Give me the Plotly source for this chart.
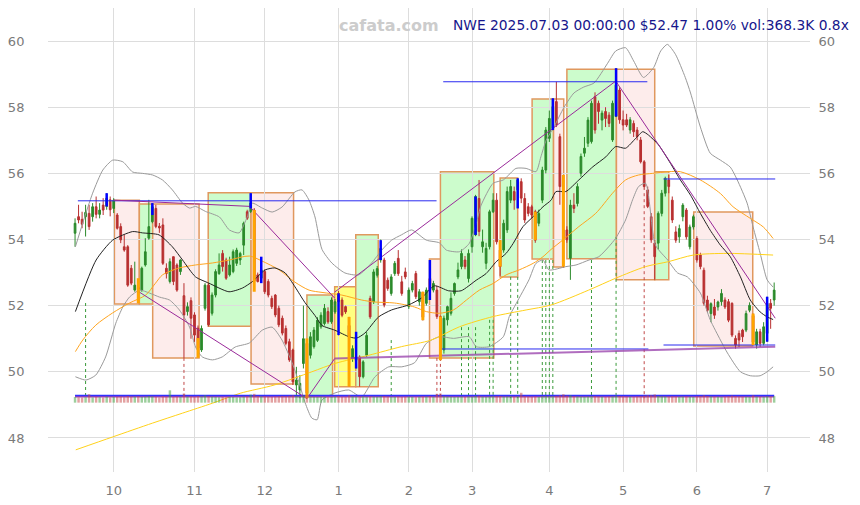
import plotly.graph_objects as go

# ---------------- data ----------------
bars = list(range(200))

opens = [54.19, 54.69, 54.61, 54.69, 54.79, 54.69, 54.99, 54.76, 55.04, 55.00,
         55.20, 54.94, 54.74, 54.39, 53.78, 53.78, 53.13, 52.47, 52.55, 52.47,
         53.23, 54.04, 54.54, 54.94, 54.40, 54.44, 53.13, 52.73, 53.48, 53.23,
         53.03, 52.30, 51.82, 52.15, 51.72, 51.32, 50.66, 51.92, 52.62, 51.77,
         52.32, 52.97, 53.58, 53.38, 52.93, 53.03, 53.28, 53.38, 53.83, 54.84,
         54.85, 54.89, 52.93, 52.83, 53.03, 52.73, 52.22, 52.32, 51.92, 51.62,
         51.31, 50.91, 50.66, 49.60, 49.45, 50.25, 50.86, 50.50, 50.76, 50.95,
         51.36, 51.46, 51.82, 51.51, 51.81, 52.37, 52.17, 51.97, 51.40, 50.40,
         50.35, 50.45, 49.85, 50.50, 52.22, 52.12, 52.92, 53.38, 53.38, 52.77,
         52.37, 52.97, 53.43, 52.72, 53.02, 51.97, 52.47, 52.97, 52.12, 52.40,
         52.07, 52.82, 52.47, 52.47, 51.67, 50.66, 51.57, 51.77, 52.37, 52.87,
         53.18, 53.38, 52.82, 53.78, 54.14, 55.24, 53.78, 53.28, 53.78, 54.84,
         55.19, 53.68, 53.68, 54.29, 55.19, 55.45, 55.50, 55.75, 55.24, 54.99,
         54.99, 54.84, 54.49, 55.19, 56.10, 57.06, 57.36, 58.17, 57.11, 54.29,
         54.29, 53.43, 55.04, 55.09, 56.00, 56.61, 56.91, 56.96, 58.32, 58.12,
         57.61, 57.87, 57.76, 57.01, 57.72, 58.52, 57.62, 57.62, 57.31, 57.51,
         57.31, 57.01, 56.35, 55.50, 54.69, 53.89, 53.89, 54.79, 55.40, 55.80,
         55.19, 54.23, 54.08, 54.69, 54.89, 53.78, 54.38, 54.03, 53.53, 53.07,
         52.17, 51.76, 51.96, 51.96, 52.12, 52.17, 52.12, 52.07, 51.01, 51.16,
         51.26, 51.26, 51.86, 51.70, 50.81, 51.21, 50.86, 51.16, 52.07, 52.17]

highs = [54.64, 55.05, 54.84, 55.05, 55.05, 55.10, 55.30, 55.10, 55.25, 55.40,
         55.30, 55.25, 54.80, 54.49, 54.14, 53.83, 53.23, 53.33, 52.60, 53.18,
         54.04, 55.20, 55.10, 55.05, 54.50, 54.64, 53.28, 53.43, 53.48, 53.28,
         53.40, 52.68, 52.10, 52.25, 51.80, 51.40, 51.40, 52.68, 52.68, 52.40,
         53.10, 53.58, 53.68, 53.45, 53.48, 53.70, 53.75, 53.63, 54.54, 54.90,
         55.40, 54.95, 53.00, 53.40, 53.10, 52.80, 52.30, 52.35, 52.00, 51.70,
         51.40, 51.00, 50.70, 50.15, 49.90, 52.00, 50.95, 51.20, 51.35, 51.65,
         51.80, 52.05, 51.95, 52.25, 52.20, 52.45, 52.25, 52.00, 51.66, 50.80,
         50.75, 50.50, 50.35, 51.20, 52.30, 53.10, 53.20, 54.00, 53.45, 52.85,
         52.95, 53.35, 53.68, 52.90, 53.15, 52.55, 52.75, 53.05, 52.50, 52.42,
         52.55, 53.38, 52.75, 52.60, 51.70, 51.70, 52.00, 52.40, 52.70, 53.30,
         53.70, 53.50, 53.70, 54.70, 55.35, 55.80, 54.30, 53.90, 54.90, 55.40,
         55.40, 53.98, 54.60, 55.60, 55.80, 55.60, 55.85, 55.85, 55.40, 55.10,
         55.05, 54.90, 54.90, 56.20, 57.40, 57.90, 58.27, 58.77, 57.20, 55.95,
         54.40, 55.20, 55.40, 55.70, 56.60, 57.10, 57.70, 58.20, 58.45, 58.20,
         57.90, 58.00, 57.85, 58.20, 59.18, 58.60, 57.90, 57.80, 57.70, 57.60,
         57.40, 57.10, 56.40, 55.60, 54.80, 54.00, 54.85, 55.50, 55.90, 55.95,
         55.30, 54.40, 54.45, 55.10, 54.95, 54.45, 54.75, 54.10, 53.60, 53.15,
         52.30, 52.10, 52.20, 52.15, 52.50, 52.25, 52.20, 52.10, 51.10, 51.25,
         51.30, 51.85, 52.10, 51.76, 51.30, 51.30, 51.50, 52.27, 52.20, 52.70]

lows = [53.78, 54.49, 54.34, 54.09, 54.29, 54.54, 54.64, 54.64, 54.74, 54.90,
        54.70, 54.80, 54.30, 53.89, 53.63, 52.57, 52.62, 52.42, 52.40, 52.42,
        53.18, 53.99, 54.49, 54.34, 54.20, 53.23, 52.82, 52.67, 52.62, 52.42,
        52.93, 50.42, 51.70, 51.00, 50.90, 50.70, 50.60, 51.85, 51.37, 51.70,
        52.25, 52.93, 53.03, 52.78, 52.88, 52.98, 53.20, 53.23, 53.53, 54.59,
        54.80, 52.55, 52.70, 52.75, 52.35, 52.25, 51.90, 51.65, 51.35, 51.10,
        50.80, 50.30, 49.60, 49.30, 49.20, 50.10, 49.24, 50.40, 50.70, 50.90,
        51.30, 51.40, 51.45, 51.45, 51.75, 51.10, 51.65, 51.75, 49.55, 50.30,
        50.10, 49.55, 49.80, 50.45, 51.60, 52.05, 52.85, 53.30, 51.95, 52.45,
        52.30, 52.90, 52.90, 52.30, 52.80, 51.90, 52.40, 52.20, 52.00, 51.55,
        52.00, 52.17, 52.40, 51.60, 50.35, 50.55, 51.40, 51.70, 52.30, 52.80,
        53.10, 53.10, 52.70, 53.60, 54.10, 54.10, 53.60, 53.10, 53.70, 54.80,
        53.85, 52.90, 53.60, 54.20, 55.10, 54.90, 54.95, 55.10, 54.50, 54.70,
        54.65, 53.90, 54.40, 55.10, 56.00, 56.95, 57.30, 57.40, 55.05, 53.15,
        53.90, 52.78, 54.80, 55.00, 55.90, 56.50, 56.80, 56.90, 57.20, 57.50,
        57.30, 57.40, 57.40, 56.95, 57.70, 57.50, 57.30, 57.40, 57.20, 57.10,
        57.00, 56.30, 55.50, 54.95, 53.90, 52.78, 53.70, 54.70, 55.30, 55.40,
        54.50, 53.90, 53.90, 54.55, 54.00, 53.70, 54.30, 53.30, 53.10, 52.00,
        51.80, 51.50, 51.60, 51.85, 52.00, 51.90, 51.50, 51.05, 50.70, 50.75,
        50.90, 51.20, 51.80, 50.81, 50.70, 50.75, 50.80, 50.90, 51.30, 52.00]

closes = [54.49, 54.59, 54.46, 54.82, 54.39, 54.99, 54.76, 54.89, 54.89, 55.25,
          54.90, 55.19, 54.34, 53.99, 53.68, 52.62, 52.68, 52.62, 52.50, 53.13,
          53.63, 54.39, 54.99, 54.39, 54.35, 53.28, 52.97, 53.33, 52.73, 52.47,
          53.38, 51.72, 51.97, 51.62, 51.11, 50.72, 51.31, 52.62, 51.42, 52.32,
          53.03, 53.23, 53.18, 52.83, 53.23, 53.63, 53.68, 53.58, 54.49, 54.64,
          55.10, 52.75, 52.73, 53.08, 52.42, 52.32, 51.97, 51.72, 51.42, 51.17,
          50.86, 50.36, 49.70, 49.75, 49.65, 51.00, 49.35, 51.06, 51.26, 51.56,
          51.71, 51.92, 51.51, 52.17, 52.12, 52.12, 51.71, 51.81, 51.05, 50.70,
          50.45, 49.85, 50.30, 51.10, 51.66, 53.02, 53.12, 53.73, 52.02, 52.52,
          52.87, 53.28, 52.97, 52.37, 52.87, 52.47, 52.67, 52.27, 52.42, 51.65,
          52.47, 52.47, 52.67, 51.67, 50.66, 51.62, 51.97, 52.22, 52.67, 53.08,
          53.58, 53.18, 53.58, 54.64, 55.30, 54.24, 53.93, 53.73, 54.84, 55.19,
          53.93, 53.18, 54.49, 55.45, 55.60, 55.19, 55.80, 55.25, 54.59, 54.79,
          54.74, 53.98, 54.79, 56.10, 57.31, 57.66, 58.02, 57.46, 55.60, 54.04,
          53.99, 55.04, 54.94, 55.60, 56.51, 56.76, 57.61, 58.12, 57.31, 57.87,
          57.82, 57.66, 57.51, 58.12, 58.67, 57.62, 57.46, 57.46, 57.62, 57.26,
          57.11, 56.35, 55.60, 55.00, 53.99, 53.48, 54.79, 55.40, 55.85, 55.60,
          54.59, 53.98, 54.33, 55.04, 54.08, 54.38, 54.69, 53.38, 53.18, 52.07,
          51.86, 52.06, 51.71, 52.11, 52.37, 51.96, 51.56, 51.11, 50.81, 50.96,
          51.06, 51.76, 52.01, 50.90, 51.21, 50.86, 51.36, 52.07, 51.92, 52.47]

volume_k = [320, 300, 290, 310, 480, 300, 330, 310, 290, 340,
            300, 320, 330, 350, 310, 380, 330, 340, 360, 320,
            340, 380, 350, 330, 300, 360, 340, 700, 320, 350,
            330, 520, 340, 360, 330, 380, 350, 420, 360, 340,
            330, 310, 320, 300, 330, 320, 300, 310, 340, 360,
            460, 500, 380, 350, 360, 340, 330, 350, 360, 380,
            370, 390, 420, 380, 360, 400, 450, 350, 330, 320,
            340, 330, 310, 320, 340, 380, 330, 320, 420, 360,
            340, 350, 360, 330, 350, 340, 330, 360, 380, 340,
            320, 330, 340, 320, 330, 340, 320, 310, 330, 350,
            340, 380, 330, 500, 520, 360, 340, 330, 320, 330,
            340, 320, 350, 330, 380, 400, 340, 330, 350, 360,
            370, 380, 340, 350, 360, 330, 350, 560, 360, 340,
            330, 350, 320, 360, 380, 370, 360, 390, 420, 480,
            400, 420, 360, 350, 340, 330, 350, 360, 370, 340,
            330, 320, 340, 350, 400, 380, 360, 340, 330, 320,
            340, 360, 400, 420, 430, 470, 380, 360, 350, 340,
            360, 350, 330, 340, 350, 330, 320, 360, 370, 420,
            380, 350, 340, 330, 320, 340, 360, 400, 380, 350,
            340, 330, 320, 420, 340, 330, 320, 360, 340, 368]

# month ticks (bar index of first trading day shown for each month)
month_ticks = [11, 34, 54, 75, 95, 113, 135, 156, 177, 197]
month_labels = ["10", "11", "12", "1", "2", "3", "4", "5", "6", "7"]
price_ticks = [48, 50, 52, 54, 56, 58, 60]

# moving averages / bands (sampled along the curves)
ma20_i = [0.1, 6.0, 10.7, 16.4, 19.2, 23.9, 27.7, 30.6, 34.3, 38.1, 43.8, 47.6, 50.4, 54.1, 56.9, 59.8,
          62.6, 65.4, 68.3, 70.3, 73.9, 78.2, 80.2, 82.5, 86.4, 90.1, 94.9, 98.6, 102.3, 106.3, 109.9,
          114.2, 117.0, 119.9, 122.7, 124.7, 127.5, 130.4, 133.2, 135.5, 136.9, 139.7, 143.4, 147.4,
          151.1, 153.9, 156.7, 159.6, 161.6, 163.2, 166.1, 169.5, 172.3, 175.2, 178.0, 180.8, 183.7,
          186.5, 189.4, 192.2, 195.0, 197.0, 198.7]
ma20_v = [51.82, 53.38, 53.98, 54.24, 54.20, 54.14, 53.78, 53.38, 52.87, 52.68, 52.42, 52.53, 52.72, 53.08,
          53.14, 52.99, 52.57, 52.10, 51.70, 51.40, 51.26, 51.05, 51.02, 51.17, 51.66, 51.87, 52.02, 52.23,
          52.60, 52.45, 52.45, 52.77, 52.97, 53.33, 53.58, 53.88, 54.39, 54.69, 54.99, 55.19, 55.45, 55.45,
          55.80, 56.20, 56.50, 56.81, 56.76, 57.06, 57.26, 57.16, 56.86, 56.30, 55.80, 55.34, 54.79, 54.28,
          53.83, 53.48, 52.87, 52.17, 51.81, 51.66, 51.58]

ma50_i = [0.1, 2.2, 5.9, 10.7, 15.5, 20.1, 22.9, 24.9, 29.7, 34.3, 39.1, 43.9, 49.6, 53.2, 58.1, 62.6,
          66.6, 70.3, 75.9, 81.6, 85.3, 90.9, 96.6, 100.0, 103.7, 107.7, 111.4, 115.1, 119.0, 122.7,
          126.4, 130.4, 133.2, 135.5, 138.9, 143.4, 148.2, 153.0, 156.7, 160.4, 164.4, 168.9, 172.3,
          178.0, 183.7, 187.3, 192.2, 195.9, 198.7]
ma50_v = [50.61, 50.96, 51.41, 51.78, 52.08, 52.32, 52.68, 52.93, 53.14, 53.23, 53.29, 53.38, 53.50, 53.35,
          53.08, 52.71, 52.47, 52.40, 52.32, 52.17, 52.11, 52.08, 51.96, 51.82, 51.77, 51.87, 52.17, 52.47,
          52.67, 52.93, 53.08, 53.28, 53.48, 53.70, 53.99, 54.39, 54.79, 55.40, 55.80, 55.95, 56.00, 56.05,
          56.05, 55.80, 55.39, 54.99, 54.64, 54.38, 54.03]

ma200_i = [0.2, 10.7, 22.1, 30.6, 39.1, 47.0, 56.7, 67.4, 73.9, 83.6, 92.9, 101.4, 109.4, 119.0, 128.4,
           135.5, 146.2, 153.9, 162.4, 168.9, 176.0, 185.6, 198.7]
ma200_v = [47.64, 48.03, 48.45, 48.75, 49.05, 49.35, 49.60, 50.00, 50.25, 50.50, 50.76, 50.96, 51.36, 51.67,
           51.87, 52.02, 52.47, 52.83, 53.18, 53.33, 53.53, 53.58, 53.53]

bb_up_i = [0.1, 2.2, 5.0, 7.9, 10.7, 13.6, 16.4, 19.2, 22.1, 24.9, 27.7, 30.6, 32.6, 34.3, 37.1, 41.1, 43.9,
           46.7, 49.0, 50.4, 53.3, 56.1, 58.9, 62.6, 64.6, 66.6, 68.3, 70.3, 73.1, 76.8, 80.7, 84.4, 87.3,
           90.1, 92.9, 95.8, 100.0, 103.7, 105.7, 109.4, 112.2, 114.2, 115.6, 119.0, 121.9, 125.5, 128.4,
           131.2, 132.6, 134.1, 136.3, 139.2, 142.0, 144.8, 147.7, 151.6, 153.9, 156.7, 159.0, 161.8,
           164.7, 166.7, 168.6, 170.9, 173.7, 175.2, 178.0, 180.8, 183.7, 186.5, 188.5, 191.3, 193.0,
           195.0, 197.0, 198.7]
bb_up_v = [53.78, 54.50, 55.40, 56.10, 56.40, 56.35, 56.04, 56.00, 55.95, 55.80, 55.50, 55.10, 54.95, 55.00,
           54.85, 54.68, 54.29, 54.20, 54.68, 55.10, 54.95, 54.83, 54.98, 55.44, 55.50, 55.19, 54.68, 53.70,
           53.29, 52.99, 52.93, 53.29, 53.68, 53.98, 54.14, 54.29, 53.98, 53.90, 53.68, 53.63, 53.88, 54.49,
           55.04, 55.70, 55.80, 56.15, 56.15, 56.05, 56.50, 57.00, 57.40, 58.00, 58.43, 58.61, 58.73, 59.33,
           59.70, 59.80, 59.40, 58.90, 59.20, 59.70, 59.90, 59.60, 58.90, 58.43, 57.40, 56.61, 56.40, 56.19,
           55.80, 55.10, 54.38, 53.59, 52.78, 52.56]

bb_lo_i = [0.1, 3.1, 5.9, 8.7, 11.6, 13.6, 15.5, 18.4, 21.2, 24.0, 26.9, 29.7, 32.6, 34.3, 36.2, 39.1, 41.9,
           45.6, 49.6, 53.3, 56.1, 58.9, 61.8, 63.8, 65.5, 67.4, 68.9, 70.3, 74.0, 77.9, 81.6, 85.3, 89.3,
           93.0, 96.6, 100.0, 103.7, 107.7, 112.2, 114.2, 117.9, 121.9, 123.6, 125.6, 129.2, 131.2, 133.2,
           134.9, 139.7, 142.6, 146.3, 149.1, 151.9, 153.9, 156.7, 158.7, 160.4, 162.4, 165.2, 168.7,
           171.5, 174.3, 178.0, 180.8, 183.7, 185.7, 189.4, 192.2, 195.0, 197.0, 198.7]
bb_lo_v = [49.85, 49.75, 49.90, 50.45, 51.47, 51.96, 52.26, 52.47, 52.38, 52.26, 52.17, 51.87, 51.35, 50.75,
           50.45, 50.36, 50.45, 50.75, 50.87, 51.26, 51.35, 50.96, 50.27, 49.66, 49.06, 48.60, 48.55, 49.15,
           49.36, 49.45, 49.24, 49.84, 50.15, 50.15, 50.27, 50.86, 51.06, 51.01, 51.06, 50.76, 50.76, 51.06,
           51.67, 52.07, 52.78, 53.28, 53.38, 53.08, 53.18, 53.23, 53.38, 53.48, 53.78, 54.04, 54.59, 55.20,
           55.60, 55.70, 53.83, 53.38, 52.99, 52.87, 52.38, 51.57, 50.96, 50.57, 50.00, 49.88, 49.88, 50.00,
           50.15]

# pattern boxes
box_x0 = [11.2, 18.3, 22.1, 37.9, 50.1, 66.0, 73.9, 79.9, 100.9, 104.0, 121.0, 130.1, 136.2, 140.0, 154.1, 165.0, 176.1]
box_x1 = [18.3, 22.1, 35.3, 50.1, 62.2, 73.3, 79.9, 86.3, 104.3, 119.2, 126.0, 136.2, 139.1, 154.1, 165.0, 169.0, 192.9]
box_lo = [52.05, 52.05, 50.42, 51.38, 49.63, 49.25, 49.55, 49.55, 50.42, 50.42, 52.87, 53.41, 53.17, 53.42, 52.78, 52.78, 50.78]
box_hi = [55.19, 55.07, 55.07, 55.41, 55.41, 52.32, 52.57, 54.14, 53.41, 56.05, 55.86, 58.25, 58.25, 59.15, 59.15, 56.05, 54.83]
box_kind = ["down", "up", "down", "up", "down", "up", "flat", "up", "down", "up", "up", "up", "down", "up", "down", "up", "down"]

# trend lines (start index, start price, end index, end price)
trend_x0 = [11.0, 50.1, 18.3, 66.0, 73.9, 153.9]
trend_y0 = [55.19, 54.95, 52.41, 49.19, 52.41, 58.79]
trend_x1 = [50.1, 73.9, 66.0, 73.9, 153.9, 199.3]
trend_y1 = [55.00, 52.23, 49.19, 50.40, 58.79, 51.62]
support_x = [73.9, 199.3]
support_y = [50.40, 50.76]

# horizontal levels
level_price = [55.17, 58.77, 50.69, 55.83, 50.81]
level_x0 = [0.8, 104.8, 104.3, 167.5, 167.5]
level_x1 = [102.9, 162.9, 163.2, 199.3, 199.3]
base_blue = 49.28
base_purple = 49.25

# markers
blue_idx = [9, 22, 50, 53, 75, 80, 87, 101, 114, 126, 136, 154, 197]
blue_lo = [55.00, 54.74, 54.94, 52.68, 51.11, 50.10, 53.38, 52.17, 54.14, 54.94, 57.31, 57.72, 50.91]
blue_hi = [55.40, 55.10, 55.40, 53.48, 52.37, 51.21, 53.98, 53.38, 55.30, 55.85, 58.27, 59.18, 52.27]
orange_idx = [18, 35, 51, 66, 78, 99, 104, 121, 131, 139, 193]
orange_lo = [52.07, 50.42, 52.42, 49.20, 49.55, 51.56, 50.35, 53.18, 53.98, 53.18, 50.81]
orange_hi = [52.83, 51.02, 54.89, 51.01, 51.66, 52.42, 51.67, 53.98, 54.84, 55.95, 51.76]
sig_idx = [3, 31, 90, 103, 104, 110, 112, 114, 118, 119, 124, 126, 133, 134, 135, 136, 147, 154, 162]
sig_top = [52.08, 50.42, 50.96, 50.42, 50.42, 51.35, 51.35, 51.35, 51.57, 51.57, 52.87, 52.87, 53.38, 53.38,
           53.38, 53.38, 53.38, 54.08, 55.40]
sig_kind = ["g", "r", "g", "r", "r", "g", "g", "g", "g", "g", "g", "g", "g", "g", "g", "g", "g", "g", "r"]
sig_bottom = 49.2

title_text = "NWE 2025.07.03 00:00:00 $52.47 1.00% vol:368.3K 0.8x"
brand_text = "cafata.com"

# ---------------- styles ----------------
UP = "#2b8a2b"
DOWN = "#b83030"
FONT = "DejaVu Sans"
GRID = "#dddddd"
TICKC = "#7a7a7a"


def segs(xs0, ys0, xs1, ys1):
    X, Y = [], []
    for a, b, c, d in zip(xs0, ys0, xs1, ys1):
        X += [a, c, None]
        Y += [b, d, None]
    return X, Y


fig = go.Figure()

# boxes
for x0, x1, lo, hi, k in zip(box_x0, box_x1, box_lo, box_hi, box_kind):
    fill = {"up": "#ccfccc", "down": "#fdeceb", "flat": "#ffff80"}[k]
    fig.add_shape(type="rect", xref="x", yref="y", x0=x0, x1=x1, y0=lo, y1=hi,
                  fillcolor=fill, line=dict(color="#e0985e", width=1.5), layer="below")

# signal dotted lines
for kind, col in (("g", "#3a9a3a"), ("r", "#c04848")):
    X, Y = [], []
    for i, t, k in zip(sig_idx, sig_top, sig_kind):
        if k == kind:
            X += [i, i, None]
            Y += [t, sig_bottom, None]
    fig.add_trace(go.Scatter(x=X, y=Y, mode="lines", line=dict(color=col, width=1, dash="dot"),
                             hoverinfo="skip", showlegend=False))

# volume (overlaid axis, bars sit on the bottom strip)
vcol = ["rgba(60,160,60,0.5)" if c >= o else "rgba(200,70,70,0.5)" for o, c in zip(opens, closes)]
fig.add_trace(go.Bar(x=bars, y=volume_k, yaxis="y3", marker=dict(color=vcol, line=dict(width=0)),
                     width=0.7, hoverinfo="skip", showlegend=False))

# bands and averages
fig.add_trace(go.Scatter(x=bb_up_i, y=bb_up_v, mode="lines", line=dict(color="#9a9a9a", width=1, shape="spline", smoothing=0.6),
                         hoverinfo="skip", showlegend=False))
fig.add_trace(go.Scatter(x=bb_lo_i, y=bb_lo_v, mode="lines", line=dict(color="#9a9a9a", width=1, shape="spline", smoothing=0.6),
                         hoverinfo="skip", showlegend=False))
fig.add_trace(go.Scatter(x=ma200_i, y=ma200_v, mode="lines", line=dict(color="#ffd21a", width=1, shape="spline", smoothing=0.8),
                         hoverinfo="skip", showlegend=False))
fig.add_trace(go.Scatter(x=ma50_i, y=ma50_v, mode="lines", line=dict(color="#ffa51f", width=1, shape="spline", smoothing=0.8),
                         hoverinfo="skip", showlegend=False))
fig.add_trace(go.Scatter(x=ma20_i, y=ma20_v, mode="lines", line=dict(color="#222222", width=1, shape="spline", smoothing=0.6),
                         hoverinfo="skip", showlegend=False))

# horizontal levels
X, Y = segs(level_x0, level_price, level_x1, level_price)
fig.add_trace(go.Scatter(x=X, y=Y, mode="lines", line=dict(color="#2a2af0", width=1),
                         hoverinfo="skip", showlegend=False))
fig.add_trace(go.Scatter(x=[bars[0], bars[-1]], y=[base_purple, base_purple], mode="lines",
                         line=dict(color="#a040b0", width=2), hoverinfo="skip", showlegend=False))
fig.add_trace(go.Scatter(x=[bars[0], bars[-1]], y=[base_blue, base_blue], mode="lines",
                         line=dict(color="#3030ff", width=1.5), hoverinfo="skip", showlegend=False))

# trend lines
X, Y = segs(trend_x0, trend_y0, trend_x1, trend_y1)
fig.add_trace(go.Scatter(x=X, y=Y, mode="lines", line=dict(color="#9a2a9a", width=1),
                         hoverinfo="skip", showlegend=False))
fig.add_trace(go.Scatter(x=support_x, y=support_y, mode="lines", line=dict(color="rgba(150,60,170,0.75)", width=2),
                         hoverinfo="skip", showlegend=False))

# candles
fig.add_trace(go.Candlestick(x=bars, open=opens, high=highs, low=lows, close=closes,
                             increasing=dict(line=dict(color=UP, width=1), fillcolor=UP),
                             decreasing=dict(line=dict(color=DOWN, width=1), fillcolor=DOWN),
                             hoverinfo="skip", showlegend=False))

# markers
X, Y = segs(orange_idx, orange_lo, orange_idx, orange_hi)
fig.add_trace(go.Scatter(x=X, y=Y, mode="lines", line=dict(color="#ffa500", width=3),
                         hoverinfo="skip", showlegend=False))
X, Y = segs(blue_idx, blue_lo, blue_idx, blue_hi)
fig.add_trace(go.Scatter(x=X, y=Y, mode="lines", line=dict(color="#0000ff", width=2.5),
                         hoverinfo="skip", showlegend=False))

# right mirrored axis anchor trace
fig.add_trace(go.Scatter(x=[bars[0]], y=[closes[0]], yaxis="y2", mode="markers",
                         marker=dict(opacity=0), hoverinfo="skip", showlegend=False))

fig.add_annotation(text=brand_text, xref="paper", yref="paper", x=0.448, y=0.963,
                   xanchor="center", yanchor="middle", showarrow=False,
                   font=dict(family=FONT, size=16, color="#cccccc", weight="bold"))
fig.add_annotation(text=title_text, xref="paper", yref="paper", x=1.054, y=0.963,
                   xanchor="right", yanchor="middle", showarrow=False,
                   font=dict(family=FONT, size=13.8, color="#16168c"))

yr = [46.97, 61.0]
# the page body adds an 8px offset; the figure is sized to fit inside the window
fig.update_layout(
    width=852, height=497,
    margin=dict(l=37, r=50, t=0, b=33),
    paper_bgcolor="white", plot_bgcolor="white",
    font=dict(family=FONT, size=13, color=TICKC),
    xaxis=dict(range=[-7.7, 209.2], tickvals=month_ticks, ticktext=month_labels,
               showgrid=True, gridcolor=GRID, zeroline=False, showline=False,
               ticks="outside", ticklen=6, tickcolor="rgba(0,0,0,0)",
               rangeslider=dict(visible=False), tickfont=dict(size=13, color=TICKC)),
    yaxis=dict(range=yr, tickvals=price_ticks, showgrid=True, gridcolor=GRID, zeroline=False,
               showline=False, ticks="outside", ticklen=20, tickcolor="rgba(0,0,0,0)",
               tickfont=dict(size=13, color=TICKC)),
    yaxis2=dict(range=yr, tickvals=price_ticks, overlaying="y", side="right", showgrid=False,
                zeroline=False, showline=False, ticks="outside", ticklen=5,
                tickcolor="rgba(0,0,0,0)", tickfont=dict(size=13, color=TICKC)),
    yaxis3=dict(range=[-3930, 22370], overlaying="y", visible=False, showgrid=False, zeroline=False),
)

fig.write_html("out.html")
